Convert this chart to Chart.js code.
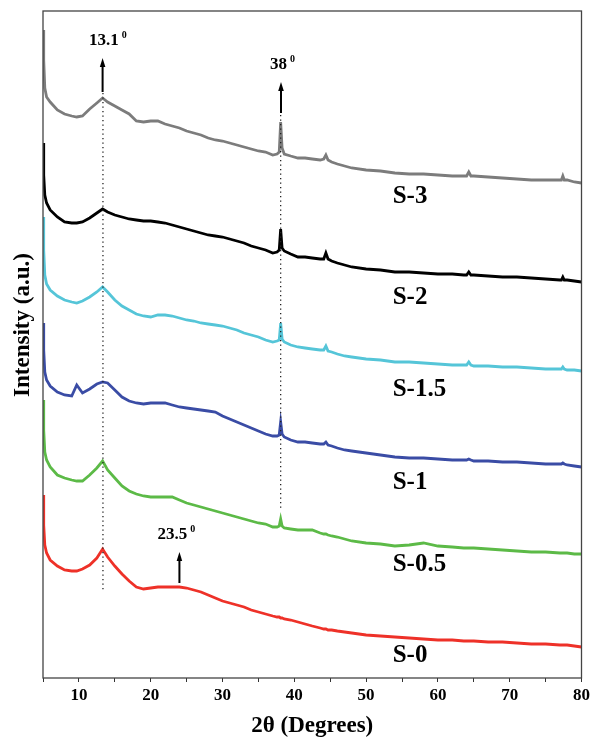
<!DOCTYPE html>
<html lang="en">
<head>
<meta charset="UTF-8">
<title>XRD patterns S-0 to S-3</title>
<script src="https://cdn.jsdelivr.net/npm/chart.js@4.4.0/dist/chart.umd.min.js"></script>
<style>
  html, body { margin: 0; padding: 0; background: #fff; }
  .chart-container { position: relative; width: 593px; height: 738px; }
</style>
</head>
<body>
<div class="chart-container"><canvas id="xrdChart"></canvas></div>
<script>
// 2θ sampling points (degrees)
const twoTheta = [5.0, 5.1, 5.25, 5.5, 6, 7, 8, 9, 9.7, 10.5, 11.5, 12.5, 13.3, 14, 15, 16, 17, 18, 19, 20,
  21, 22, 23, 24, 25, 26, 27, 28, 29, 30, 31, 32, 33, 34, 35, 36, 37, 37.6, 37.9, 38.1, 38.3, 38.6,
  39.5, 40.5, 41.5, 42.5, 43.6, 44.1, 44.4, 44.7, 45.2, 46, 47, 48, 50, 52, 54, 56, 58, 60, 62, 63.6, 64.0, 64.3, 64.6, 65,
  67, 69, 71, 73, 75, 77, 77.2, 77.4, 77.6, 78, 79, 80];

// intensities (a.u., stacked with offsets as in the figure)
const s3 = [648, 618, 590, 581, 576, 568, 564, 562, 561, 562, 569, 575, 580, 576, 572, 568, 564, 557, 556, 557,
  557, 554, 552, 550, 547, 545, 543, 540, 538, 537, 535, 533, 531, 529, 527, 526, 523, 524, 526, 556, 530, 524,
  522, 520, 520, 519, 518, 519, 523, 518, 516, 514, 512, 510, 508, 507, 505, 504, 504, 503, 502, 502, 502, 506, 502, 502,
  501, 500, 499, 498, 498, 498, 498, 502, 498, 498, 496, 495];
const s2 = [535, 503, 483, 475, 468, 461, 456, 455, 455, 456, 460, 465, 469, 466, 463, 461, 459, 458, 457, 457,
  456, 455, 453, 451, 449, 447, 445, 443, 442, 441, 439, 437, 435, 432, 430, 428, 425, 426, 428, 449, 430, 427,
  424, 421, 421, 420, 419, 419, 425, 419, 417, 415, 413, 411, 409, 408, 406, 406, 405, 404, 404, 403, 403, 406, 403, 403,
  402, 401, 401, 400, 399, 398, 398, 401, 398, 398, 397, 396];
const s15 = [461, 428, 403, 394, 388, 382, 378, 376, 375, 377, 381, 386, 391, 386, 378, 372, 368, 364, 362, 361,
  363, 363, 362, 360, 358, 357, 355, 354, 353, 352, 350, 348, 345, 343, 341, 338, 336, 337, 338, 355, 339, 336,
  333, 331, 330, 329, 328, 328, 332, 327, 326, 324, 322, 321, 319, 318, 316, 316, 315, 314, 313, 313, 313, 316, 313, 312,
  312, 311, 311, 310, 309, 309, 309, 311, 309, 308, 308, 307];
const s1 = [355, 328, 306, 298, 292, 286, 283, 282, 293, 285, 289, 294, 296, 295, 288, 281, 277, 275, 274, 275,
  275, 275, 273, 271, 270, 269, 268, 267, 266, 262, 259, 256, 253, 250, 247, 244, 242, 242, 243, 256, 244, 241,
  238, 236, 236, 235, 234, 234, 236, 233, 232, 230, 228, 227, 225, 223, 221, 220, 220, 219, 218, 218, 218, 219, 218, 217,
  217, 216, 216, 215, 214, 214, 214, 215, 214, 213, 212, 211];
const s05 = [278, 248, 226, 218, 211, 203, 200, 198, 197, 197, 203, 210, 217, 208, 200, 192, 187, 184, 182, 181,
  181, 181, 181, 178, 175, 173, 171, 169, 167, 165, 163, 161, 159, 157, 155, 154, 151, 151, 152, 159, 152, 150,
  149, 148, 148, 148, 145, 144, 144, 143, 142, 141, 139, 137, 135, 134, 132, 133, 135, 132, 131, 130, 130, 130, 130, 130,
  129, 128, 127, 126, 126, 125, 125, 125, 125, 125, 124, 124];
const s0 = [183, 153, 133, 125, 118, 112, 108, 107, 107, 109, 113, 120, 129, 121, 112, 104, 97, 91, 89, 90,
  91, 91, 91, 91, 90, 88, 86, 83, 80, 77, 75, 73, 71, 68, 66, 64, 62, 61, 61, 60, 60, 59,
  58, 56, 54, 52, 50, 49, 49, 48, 48, 47, 46, 45, 43, 42, 41, 40, 39, 38, 38, 37, 37, 37, 37, 37,
  36, 36, 35, 34, 34, 33, 33, 33, 33, 33, 32, 31];

const sampleNames = ['S-3', 'S-2', 'S-1.5', 'S-1', 'S-0.5', 'S-0'];
const sampleSeries = [s3, s2, s15, s1, s05, s0];
const sampleColors = ['#7c7c7c', '#000000', '#55c5d8', '#3a4ca5', '#5cba47', '#ee3128'];
const labelX = 53.7;
const labelY = [481, 380, 288, 195, 113, 22];

// peak annotations
const peakText = ['13.1', '38', '23.5'];
const peakTextX = [11.39, 36.63, 20.93];
const peakTextY = [637, 613, 143];
const arrowX = [13.3, 38.15, 24.0];
const arrowFrom = [586, 565, 95];
const arrowTo = [620, 596, 126];
const guideX = [13.35, 38.1];
const guideFrom = [585, 563];
const guideTo = [88, 168];

const serif = '"Liberation Serif", "Times New Roman", serif';

const annotations = {
    id: 'annotations',
    afterDatasetsDraw(chart) {
        const ctx = chart.ctx;
        const xs = chart.scales.x;
        const ys = chart.scales.y;
        const area = chart.chartArea;
        ctx.save();

        // dotted guide lines
        ctx.strokeStyle = '#222';
        ctx.lineWidth = 1.3;
        ctx.setLineDash([1.3, 3.2]);
        guideX.forEach((gx, i) => {
            const px = xs.getPixelForValue(gx);
            ctx.beginPath();
            ctx.moveTo(px, ys.getPixelForValue(guideFrom[i]));
            ctx.lineTo(px, ys.getPixelForValue(guideTo[i]));
            ctx.stroke();
        });
        ctx.setLineDash([]);

        // arrows
        ctx.fillStyle = '#000';
        ctx.strokeStyle = '#000';
        arrowX.forEach((ax, i) => {
            const px = xs.getPixelForValue(ax);
            const y0 = ys.getPixelForValue(arrowFrom[i]);
            const y1 = ys.getPixelForValue(arrowTo[i]);
            ctx.lineWidth = 2;
            ctx.beginPath();
            ctx.moveTo(px, y0);
            ctx.lineTo(px, y1 + 6);
            ctx.stroke();
            ctx.beginPath();
            ctx.moveTo(px, y1);
            ctx.lineTo(px - 2.8, y1 + 9);
            ctx.lineTo(px + 2.8, y1 + 9);
            ctx.closePath();
            ctx.fill();
        });

        // peak texts with degree superscript
        ctx.textBaseline = 'middle';
        ctx.textAlign = 'left';
        peakText.forEach((t, i) => {
            const px = xs.getPixelForValue(peakTextX[i]);
            const py = ys.getPixelForValue(peakTextY[i]);
            ctx.font = 'bold 17px ' + serif;
            ctx.fillText(t, px, py);
            const w = ctx.measureText(t).width;
            ctx.font = 'bold 10px ' + serif;
            ctx.fillText('0', px + w + 3, py - 6);
        });

        // sample labels
        ctx.font = 'bold 25px ' + serif;
        sampleNames.forEach((name, i) => {
            ctx.fillText(name, xs.getPixelForValue(labelX), ys.getPixelForValue(labelY[i]));
        });

        // frame
        ctx.strokeStyle = '#444';
        ctx.lineWidth = 1.3;
        ctx.strokeRect(area.left, area.top, area.right - area.left, area.bottom - area.top);

        // y axis title
        ctx.translate(23, 325);
        ctx.rotate(-Math.PI / 2);
        ctx.textAlign = 'center';
        ctx.font = 'bold 23px ' + serif;
        ctx.fillText('Intensity (a.u.)', 0, 0);
        ctx.restore();
    }
};

document.addEventListener('DOMContentLoaded', function () {
    const ctx = document.getElementById('xrdChart').getContext('2d');
    new Chart(ctx, {
        type: 'scatter',
        data: {
            datasets: sampleSeries.map((series, i) => ({
                label: sampleNames[i],
                data: twoTheta.map((x, j) => ({ x: x, y: series[j] })),
                showLine: true,
                borderColor: sampleColors[i],
                borderWidth: 2.8,
                pointRadius: 0,
                tension: 0
            }))
        },
        options: {
            responsive: true,
            maintainAspectRatio: false,
            animation: false,
            layout: { padding: { left: 43, right: 10, top: 11, bottom: 0 } },
            plugins: {
                legend: { display: false },
                tooltip: { enabled: false }
            },
            scales: {
                x: {
                    type: 'linear',
                    min: 5,
                    max: 80,
                    afterFit: scale => { scale.height = 60; },
                    grid: {
                        drawOnChartArea: false,
                        drawTicks: true,
                        tickLength: 4,
                        color: '#333'
                    },
                    border: { display: false },
                    ticks: {
                        stepSize: 5,
                        autoSkip: false,
                        maxRotation: 0,
                        padding: 3,
                        color: '#000',
                        font: { family: serif, size: 17, weight: 'bold' },
                        callback: v => (v % 10 === 0 ? String(v) : '')
                    },
                    title: {
                        display: true,
                        text: '2θ (Degrees)',
                        color: '#000',
                        font: { family: serif, size: 23, weight: 'bold', lineHeight: 1 },
                        padding: { top: 0, bottom: 0 }
                    }
                },
                y: {
                    display: false,
                    min: 0,
                    max: 667
                }
            }
        },
        plugins: [annotations]
    });
});
</script>
</body>
</html>
